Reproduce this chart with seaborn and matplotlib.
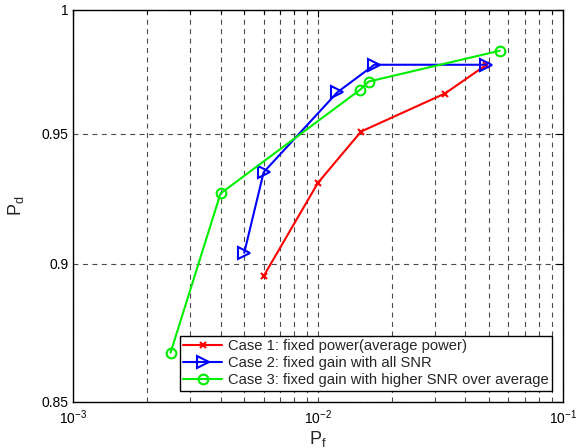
import matplotlib
matplotlib.use("Agg")
import matplotlib.pyplot as plt
from matplotlib.ticker import FixedLocator, FixedFormatter, NullLocator, LogLocator
import seaborn as sns
import pandas as pd

# ROC-style points: false-alarm probability vs detection probability
case1_pf = [0.006, 0.010, 0.015, 0.033, 0.0488]
case1_pd = [0.8955, 0.9308, 0.9508, 0.9659, 0.9775]

case2_pf = [0.0050, 0.0060, 0.0120, 0.0170, 0.0488]
case2_pd = [0.9042, 0.9349, 0.9664, 0.9775, 0.9775]

case3_pf = [0.0025, 0.0040, 0.0149, 0.0161, 0.0553]
case3_pd = [0.8675, 0.9267, 0.9675, 0.9707, 0.9832]

series_labels = [
    "Case 1: fixed power(average power)",
    "Case 2: fixed gain with all SNR",
    "Case 3: fixed gain with higher SNR over average",
]
y_ticks = [0.85, 0.9, 0.95, 1.0]
y_tick_labels = ["0.85", "0.9", "0.95", "1"]

sns.set_style("white")
plt.rcParams["font.family"] = ["Liberation Sans", "DejaVu Sans"]
plt.rcParams["mathtext.fontset"] = "custom"
plt.rcParams["mathtext.rm"] = "Liberation Sans"
plt.rcParams["mathtext.it"] = "Liberation Sans:italic"
plt.rcParams["mathtext.bf"] = "Liberation Sans:bold"

fig = plt.figure(figsize=(5.76, 4.48), dpi=100)
ax = fig.add_axes([0.127, 0.103, 0.850, 0.875])

frames = [
    (pd.DataFrame({"pf": case1_pf, "pd": case1_pd}), "red", "x", 5, series_labels[0]),
    (pd.DataFrame({"pf": case2_pf, "pd": case2_pd}), "blue", ">", 8, series_labels[1]),
    (pd.DataFrame({"pf": case3_pf, "pd": case3_pd}), "#00ee00", "o", 7, series_labels[2]),
]
for df, col, mk, ms, lab in frames:
    sns.lineplot(data=df, x="pf", y="pd", sort=False, ax=ax, color=col,
                 marker=mk, markersize=ms, markerfacecolor="none",
                 markeredgecolor=col, markeredgewidth=1.5, linewidth=1.5,
                 label=lab, zorder=5)

ax.set_xscale("log")
ax.set_yscale("log")
ax.set_xlim(1e-3, 1e-1)
ax.set_ylim(0.85, 1.0)

ax.xaxis.set_major_locator(LogLocator(base=10, numticks=5))
ax.xaxis.set_minor_locator(LogLocator(base=10, subs=range(2, 10), numticks=20))
ax.yaxis.set_major_locator(FixedLocator(y_ticks))
ax.yaxis.set_major_formatter(FixedFormatter(y_tick_labels))
ax.yaxis.set_minor_locator(NullLocator())

grid_kw = dict(color="#4a4a4a", linestyle=(0, (4.5, 4)), linewidth=0.8)
ax.grid(True, which="both", axis="x", **grid_kw)
ax.grid(True, which="major", axis="y", **grid_kw)
ax.set_axisbelow(True)

ax.tick_params(axis="both", which="both", direction="in", top=True, right=True,
               labelsize=10, colors="black")
ax.tick_params(which="major", length=5, width=0.8)
ax.tick_params(which="minor", length=3, width=0.8)
ax.tick_params(axis="x", pad=5)

for sp in ax.spines.values():
    sp.set_color("black")
    sp.set_linewidth(1.0)

ax.set_xlabel(r"$\mathregular{P_f}$", fontsize=13, labelpad=1)
ax.set_ylabel(r"$\mathregular{P_d}$", fontsize=13, labelpad=11)

leg = ax.legend(loc="lower right", bbox_to_anchor=(0.978, 0.028), fontsize=10.6,
                frameon=True, fancybox=False, framealpha=1, edgecolor="black",
                borderpad=0.25, labelspacing=0.2, handlelength=2.6,
                handletextpad=0.4, borderaxespad=0.0)
leg.get_frame().set_linewidth(1.0)

fig.savefig("out.png", dpi=100, facecolor="white")
